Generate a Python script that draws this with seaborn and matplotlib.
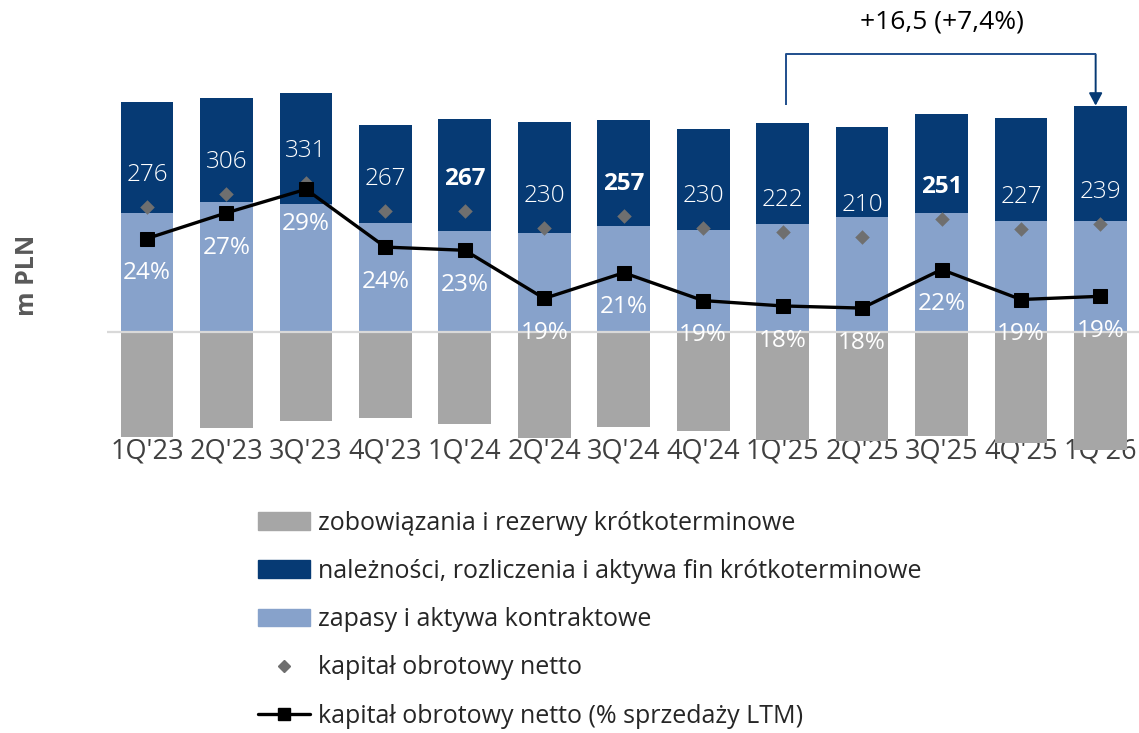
import numpy as np
import pandas as pd
import seaborn as sns
import matplotlib.pyplot as plt
from matplotlib.lines import Line2D
from matplotlib.patches import Patch

quarters = ["1Q'23", "2Q'23", "3Q'23", "4Q'23", "1Q'24", "2Q'24", "3Q'24",
            "4Q'24", "1Q'25", "2Q'25", "3Q'25", "4Q'25", "1Q'26"]
inventories = [264, 287, 283, 242, 224, 220, 235, 226, 239, 255, 263, 246, 246]
receivables = [246, 233, 247, 217, 248, 246, 235, 224, 225, 199, 220, 228, 256]
liabilities = [-234, -214, -199, -192, -205, -236, -213, -220, -242, -244, -232, -247, -263]
nwc = [276, 306, 331, 267, 267, 230, 257, 230, 222, 210, 251, 227, 239]
nwc_bold = [False, False, False, False, True, False, True, False, False, False, True, False, False]
nwc_pct = [24.4, 26.8, 29.0, 23.6, 23.3, 18.8, 21.2, 18.6, 18.1, 17.9, 21.5, 18.7, 19.0]
pct_labels = ["24%", "27%", "29%", "24%", "23%", "19%", "21%", "19%", "18%", "18%", "22%", "19%", "19%"]
change_text = "+16,5 (+7,4%)"

legend_labels = [
    "zobowiązania i rezerwy krótkoterminowe",
    "należności, rozliczenia i aktywa fin krótkoterminowe",
    "zapasy i aktywa kontraktowe",
    "kapitał obrotowy netto",
    "kapitał obrotowy netto (% sprzedaży LTM)",
]

DARK = "#063a74"
LIGHT = "#87a2cb"
GRAY = "#a6a6a6"
DIAMOND = "#6f6f6f"

sns.set_style("white")
plt.rcParams["font.family"] = ["Open Sans", "DejaVu Sans"]

df = pd.DataFrame({
    "kwartal": quarters,
    "zapasy": inventories,
    "naleznosci": receivables,
    "zobowiazania": liabilities,
})
df["aktywa"] = df["zapasy"] + df["naleznosci"]
pos = np.arange(len(quarters))

fig = plt.figure(figsize=(11.39, 7.33), dpi=100)
ax = fig.add_axes([0.0942, 0.3724, 0.9068, 0.573])

bw = 0.663
sns.barplot(data=df, x="kwartal", y="aktywa", color=DARK, width=bw,
            saturation=1, errorbar=None, linewidth=0, ax=ax)
sns.barplot(data=df, x="kwartal", y="zapasy", color=LIGHT, width=bw,
            saturation=1, errorbar=None, linewidth=0, ax=ax)
sns.barplot(data=df, x="kwartal", y="zobowiazania", color=GRAY, width=bw,
            saturation=1, errorbar=None, linewidth=0, ax=ax)

ax.axhline(0, color="#d9d9d9", lw=1.6, zorder=3)

sns.scatterplot(x=pos, y=nwc, marker="D", color=DIAMOND, s=55,
                linewidth=0, zorder=4, ax=ax)

for i, v in enumerate(nwc):
    ax.annotate(str(v), (i, v), xytext=(0, 23), textcoords="offset points",
                ha="center", va="center", color="white", fontsize=17.5,
                fontweight="bold" if nwc_bold[i] else "light", zorder=6)

ax.set_ylim(-285.6, 647.8)
ax.set_xlim(-0.5, 12.5)

# bracket with arrow: 1Q'25 -> 1Q'26
top = 616
ax.plot([8.04, 8.04, 11.94], [503, top, top], color="#1f4e8c", lw=1.4,
        solid_capstyle="butt", zorder=5)
ax.annotate("", xy=(11.94, df["aktywa"].iloc[-1]), xytext=(11.94, top),
            arrowprops=dict(arrowstyle="-|>,head_length=0.75,head_width=0.4",
                            color="#063a74", lw=1.4, shrinkA=0, shrinkB=0))
ax.text(10.0, 688, change_text, ha="center", va="center", fontsize=19,
        color="black")

ax2 = ax.twinx()
sns.lineplot(x=pos, y=nwc_pct, color="black", lw=2.4, marker="s",
             markersize=10, markeredgecolor="black", ax=ax2, zorder=5)
ax2.set_ylim(3.70, 42.95)
ax2.set_xlim(-0.5, 12.5)

for i, v in enumerate(nwc_pct):
    ax2.annotate(pct_labels[i], (i, v), xytext=(0, -25), textcoords="offset points",
                 ha="center", va="center", color="white", fontsize=17.5)

for a in (ax, ax2):
    a.set_ylabel("")
    a.set_yticks([])
    for s in a.spines.values():
        s.set_visible(False)

ax.set_xlabel("")
ax.set_xticks(pos)
ax.set_xticklabels(quarters)
ax.tick_params(axis="x", length=0, pad=-16, labelsize=19.5, labelcolor="#404040")
ax2.tick_params(axis="x", length=0)

fig.text(0.024, 0.625, "m PLN", rotation=90, ha="center", va="center",
         fontsize=18, fontweight="bold", color="#595959")

handles = [
    Patch(color=GRAY),
    Patch(color=DARK),
    Patch(color=LIGHT),
    Line2D([], [], ls="none", marker="D", color=DIAMOND, markersize=6),
    Line2D([], [], color="black", lw=2.4, marker="s", markersize=8),
]
fig.legend(handles, legend_labels, loc="upper left",
           bbox_to_anchor=(0.207, 0.334), frameon=False, fontsize=18,
           labelspacing=0.93, handlelength=2.08, handletextpad=0.32,
           handleheight=0.71, labelcolor="#262626")

fig.savefig("out.png", dpi=100)
